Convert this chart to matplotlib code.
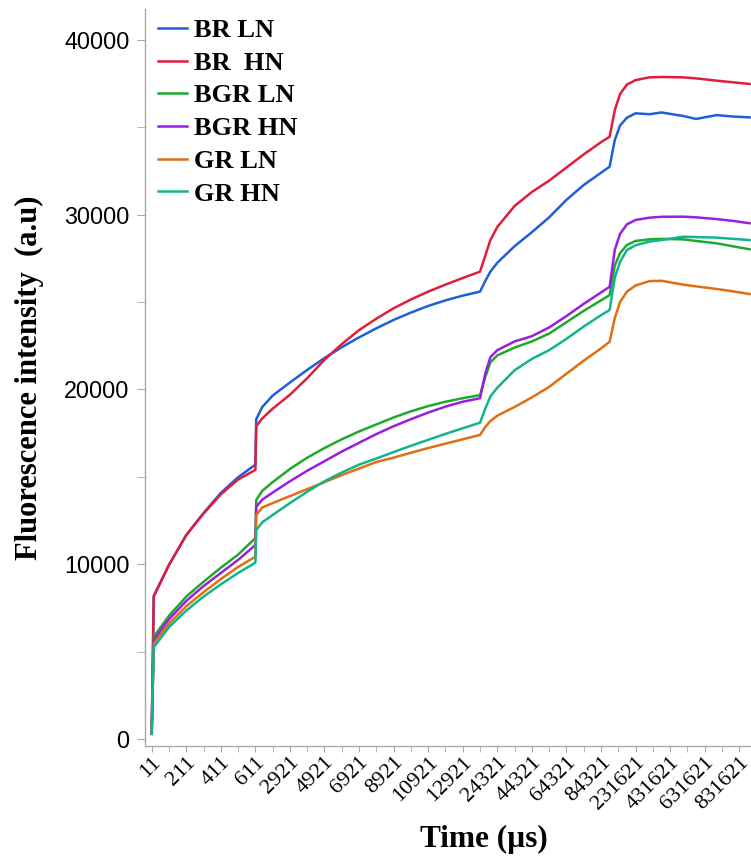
import matplotlib
matplotlib.use('Agg')
import matplotlib.pyplot as plt
from matplotlib.ticker import MultipleLocator, FixedLocator

# x axis is categorical: one tick per sample step, label every other tick
time_labels = ['11', '211', '411', '611', '2921', '4921', '6921', '8921', '10921',
               '12921', '24321', '44321', '64321', '84321', '231621', '431621',
               '631621', '831621']

# position along the categorical time axis (in tick units)
sample_idx = [0, 0.12, 1, 2, 3, 4, 5, 6, 6.05, 6.4,
              7, 8, 9, 10, 11, 12, 13, 14, 15, 16, 17, 18, 19, 19.3, 19.6,
              20, 21, 22, 23, 24, 25, 26, 26.5, 26.8, 27.1, 27.5, 28, 28.8,
              29.5, 30.75, 31.5, 32.7, 33.6, 34.6]

br_ln = [300, 8200, 9960, 11670, 12930, 14080, 14980, 15700, 18300, 19000,
         19650, 20400, 21120, 21800, 22420, 22980, 23500, 23980, 24400, 24780, 25100, 25370, 25600, 26200, 26750,
         27250, 28200, 29000, 29850, 30850, 31700, 32400, 32750, 34280, 35100, 35550, 35800, 35750,
         35850, 35650, 35480, 35700, 35620, 35570]
br_hn = [300, 8150, 9960, 11670, 12900, 14000, 14850, 15400, 17900, 18350,
         18900, 19700, 20650, 21700, 22600, 23400, 24050, 24650, 25150, 25600, 26000, 26380, 26740, 27650, 28550,
         29300, 30500, 31300, 31950, 32700, 33450, 34150, 34460, 35990, 36900, 37450, 37700, 37860,
         37880, 37860, 37800, 37670, 37580, 37480]
bgr_ln = [300, 5850, 7050, 8150, 9000, 9800, 10550, 11500, 13680, 14200,
          14700, 15450, 16100, 16650, 17150, 17600, 18000, 18400, 18750, 19050, 19300, 19500, 19680, 20700, 21550,
          21950, 22400, 22750, 23200, 23850, 24500, 25100, 25400, 27100, 27800, 28270, 28500, 28590,
          28620, 28590, 28500, 28360, 28200, 28020]
bgr_hn = [300, 5650, 6850, 7900, 8750, 9500, 10250, 11100, 13290, 13700,
          14100, 14750, 15350, 15900, 16450, 16950, 17450, 17900, 18300, 18680, 19020, 19300, 19500, 20900, 21850,
          22250, 22750, 23050, 23550, 24200, 24900, 25550, 25880, 28000, 28900, 29450, 29700, 29830,
          29880, 29890, 29850, 29750, 29650, 29510]
gr_ln = [300, 5450, 6600, 7600, 8400, 9150, 9850, 10430, 12820, 13250,
         13500, 13900, 14300, 14700, 15100, 15480, 15850, 16100, 16380, 16650, 16900, 17150, 17400, 17850, 18200,
         18500, 19000, 19550, 20150, 20900, 21650, 22350, 22730, 24100, 25000, 25600, 25950, 26200,
         26220, 26000, 25900, 25750, 25620, 25460]
gr_hn = [300, 5250, 6400, 7350, 8150, 8850, 9500, 10090, 11960, 12400,
         12820, 13500, 14150, 14750, 15250, 15700, 16050, 16420, 16780, 17120, 17460, 17780, 18100, 18900, 19600,
         20100, 21100, 21750, 22250, 22900, 23600, 24250, 24550, 26400, 27300, 27980, 28250, 28460,
         28550, 28740, 28720, 28690, 28620, 28550]

series = [
    ('BR LN', br_ln, '#1f5fd8'),
    ('BR  HN', br_hn, '#e01e3c'),
    ('BGR LN', bgr_ln, '#1fa82e'),
    ('BGR HN', bgr_hn, '#9b1ee0'),
    ('GR LN', gr_ln, '#df6f12'),
    ('GR HN', gr_hn, '#12b48e'),
]

serif = ['Liberation Serif', 'DejaVu Serif']
sans = ['Liberation Sans', 'DejaVu Sans']

fig = plt.figure(figsize=(7.51, 8.58), dpi=100)
ax = fig.add_axes([0.193, 0.1305, 0.807, 0.859])

for name, vals, col in series:
    ax.plot(sample_idx, vals, color=col, lw=1.8, label=name)

ax.set_xlim(-0.39, 34.68)
ax.set_ylim(-400, 41770)

# spines
for side in ['top', 'right']:
    ax.spines[side].set_visible(False)
for side in ['left', 'bottom']:
    ax.spines[side].set_color('#a8a8a8')
    ax.spines[side].set_linewidth(1.0)

# y ticks
ax.yaxis.set_major_locator(MultipleLocator(10000))
ax.yaxis.set_minor_locator(MultipleLocator(5000))
ax.tick_params(axis='y', which='both', length=6, color='#a8a8a8', pad=5)
for lbl in ax.get_yticklabels():
    lbl.set_family(sans)
    lbl.set_fontsize(16.8)

# x ticks
ax.xaxis.set_major_locator(FixedLocator(list(range(0, 2 * len(time_labels), 2))))
ax.xaxis.set_minor_locator(FixedLocator(list(range(1, 2 * len(time_labels), 2))))
ax.set_xticklabels(time_labels, rotation=45, ha='right', rotation_mode='anchor',
                   family=serif, fontsize=16)
ax.tick_params(axis='x', which='both', length=4, color='#a8a8a8', pad=1)

ax.set_xlabel('Time (µs)', family=serif, fontsize=22.5, fontweight='bold')
ax.xaxis.set_label_coords(0.56, -0.107)
ax.set_ylabel('Fluorescence intensity  (a.u)', family=serif, fontsize=22,
              fontweight='bold')
ax.yaxis.set_label_coords(-0.167, 0.5)

leg = ax.legend(loc='upper left', bbox_to_anchor=(0.0215, 0.987), frameon=False,
                prop={'family': serif, 'size': 19, 'weight': 'bold'}, handlelength=1.1,
                handletextpad=0.25, labelspacing=0.35, borderaxespad=0, borderpad=0)

fig.savefig('out.png', dpi=100)
